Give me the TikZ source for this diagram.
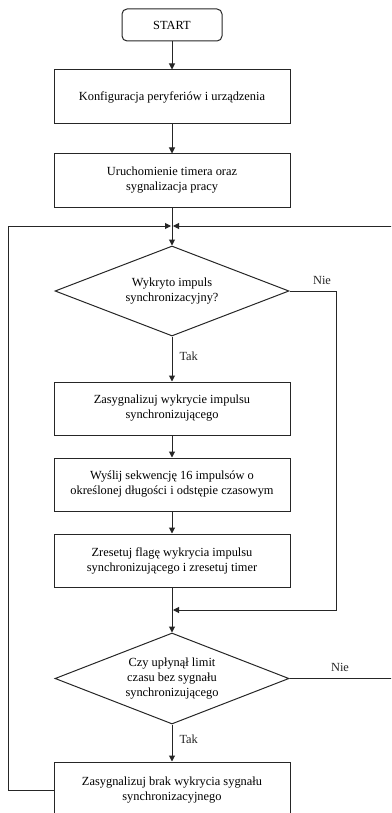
\documentclass[tikz,border=0pt]{standalone}
\usepackage{fontspec}
\setmainfont{Liberation Serif}
\usetikzlibrary{shapes.geometric,arrows.meta}
\begin{document}
\begin{tikzpicture}[x=1pt,y=-1pt,
  font=\fontsize{12.4}{15}\selectfont,
  procbox/.style={draw=black!85,line width=1pt,rectangle,minimum width=236pt,minimum height=53pt,align=center,inner sep=2pt},
  startbox/.style={draw=black!85,line width=1pt,rectangle,rounded corners=5pt,minimum width=100pt,minimum height=32pt,align=center},
  decision/.style={draw=black!85,line width=1pt,diamond,aspect=2.6,minimum width=234pt,minimum height=90pt,align=center,inner sep=0pt},
  arr/.style={draw=black!85,line width=1pt,-{Triangle[length=6pt,width=6pt]}},
  lbl/.style={draw=none,text=black!85,inner sep=1pt}]
\useasboundingbox (0,0) rectangle (391,813);
\clip (0,0) rectangle (391,813);
\node[startbox] (start) at (172,25) {START};
\node[procbox,minimum height=54pt] (b1) at (172,97) {Konfiguracja peryferiów i urządzenia};
\node[procbox] (b2) at (172,180.5) {Uruchomienie timera oraz\\sygnalizacja pracy};
\coordinate (m1) at (172,226);
\node[decision] (d1) at (172,291) {Wykryto impuls\\synchronizacyjny?};
\node[procbox] (b3) at (172,408.5) {Zasygnalizuj wykrycie impulsu\\synchronizującego};
\node[procbox] (b4) at (172,484.5) {Wyślij sekwencję 16 impulsów o\\określonej długości i odstępie czasowym};
\node[procbox] (b5) at (172,560.5) {Zresetuj flagę wykrycia impulsu\\synchronizującego i zresetuj timer};
\coordinate (m2) at (172,610);
\node[decision,minimum height=91pt] (d2) at (172,678.5) {Czy upłynął limit\\czasu bez sygnału\\synchronizującego};
\node[procbox,minimum height=56pt] (b6) at (172,790) {Zasygnalizuj brak wykrycia sygnału\\synchronizacyjnego};
\coordinate (l1) at (8,790);
\coordinate (l2) at (8,226);
\coordinate (r1) at (336,291);
\coordinate (r2) at (336,610);
\coordinate (q1) at (400,678.5);
\coordinate (q2) at (400,226);

\draw[arr] (start) -- (b1);
\draw[arr] (b1) -- (b2);
\draw[arr] (b2) -- (d1);
\draw[arr] (d1) -- node[lbl,right,pos=0.45,xshift=6pt] {Tak} (b3);
\draw[arr] (b3) -- (b4);
\draw[arr] (b4) -- (b5);
\draw[arr] (b5) -- (d2);
\draw[arr] (d2) -- node[lbl,right,pos=0.4,xshift=6pt] {Tak} (b6);
\draw[arr] (b6.west) -- (l1) -- (l2) -- ([xshift=-1pt]m1);
\draw[arr] (d2.east) -- (q1) -- (q2) -- ([xshift=1pt]m1);
\draw[arr] (d1.east) -- (r1) -- (r2) -- ([xshift=1pt]m2);
\node[lbl] (nie1) at (322,280) {Nie};
\node[lbl] (nie2) at (340,667) {Nie};
\end{tikzpicture}
\end{document}
